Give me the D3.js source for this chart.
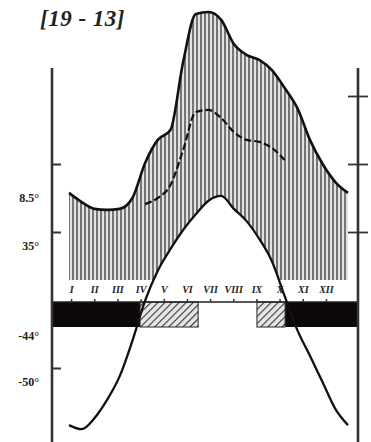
<!DOCTYPE html>
<html>
<head>
<meta charset="utf-8">
<script src="https://cdn.jsdelivr.net/npm/d3@7"></script>
<style>
  body { margin: 0; background: #fff; }
  svg { display: block; }
  .lbl { font-family: "Liberation Serif", "DejaVu Serif", serif; fill: #222; }
</style>
</head>
<body>
<div id="chart"></div>
<script>
// month labels
var months = ["I", "II", "III", "IV", "V", "VI", "VII", "VIII", "IX", "X", "XI", "XII"];
// sample positions, in months (half-month steps)
var steps = [0, 0.5, 1, 1.5, 2, 2.5, 3, 3.5, 4, 4.5, 5, 5.5, 6, 6.5, 7, 7.5, 8, 8.5, 9, 9.5, 10, 10.5, 11];
// temperature, deg C
var temperature = [-18.4, -19.0, -17.4, -14.7, -11.2, -6.0, -0.1, 4.3, 7.5, 10.3, 12.6, 14.6, 15.3,
  13.4, 11.6, 9.0, 5.7, 0.6, -4.4, -8.2, -12.1, -16.0, -18.4];
// precipitation, mm
var precipitation = [31.5, 28.8, 26.8, 26.5, 26.8, 30.0, 40.3, 47.1, 50.0, 70.0, 84.1, 84.7, 82.4,
  75.3, 72.1, 70.6, 67.6, 62.4, 56.5, 47.1, 40.0, 34.7, 31.5];
// dashed curve (second precipitation series), from month 3
var dashedSteps = [3, 3.5, 4, 4.5, 5, 5.5, 6, 6.5, 7, 7.5, 8, 8.5];
var dashedValues = [28.2, 30.0, 33.8, 44.1, 55.3, 55.9, 53.5, 49.4, 47.1, 46.5, 44.7, 41.2];
// frost periods (months)
var frostDefinite = [[-0.7, 2.8], [8.52, 11.45]];
var frostPossible = [[2.8, 5.09], [7.41, 8.52]];
// axis ticks
var tempTicks = [-10, 10, 20];
var precTicks = [20, 40, 60];
// side notes
var notes = [
  { text: "8.5°", t: 15.0 },
  { text: "35°", t: 8.0 },
  { text: "-44°", t: -5.3 },
  { text: "-50°", t: -12.1 }
];
var title = "[19 - 13]";

var width = 371, height = 442;
var left = 52, right = 358, plotTop = 68, bottom = 442, base = 280;

var svg = d3.select("#chart").append("svg")
  .attr("width", width)
  .attr("height", height);

var x = d3.scaleLinear().domain([0, 11]).range([69, 348]);
var xLabel = d3.scaleBand().domain(months).range([60, 338]);
var yT = d3.scaleLinear().domain([0, 10]).range([300, 232]);
var yP = d3.scaleLinear().domain([0, 20]).range([300, 232]);

var defs = svg.append("defs");
var vp = defs.append("pattern")
  .attr("id", "vert")
  .attr("patternUnits", "userSpaceOnUse")
  .attr("width", 4).attr("height", 4);
vp.append("rect").attr("width", 4).attr("height", 4).attr("fill", "#cfcfcf");
vp.append("line").attr("x1", 1).attr("x2", 1).attr("y1", 0).attr("y2", 4)
  .attr("stroke", "#5e5e5e").attr("stroke-width", 1.6);
vp.append("line").attr("x1", 3).attr("x2", 3).attr("y1", 0).attr("y2", 4)
  .attr("stroke", "#fafafa").attr("stroke-width", 0.9);

var dp = defs.append("pattern")
  .attr("id", "diag")
  .attr("patternUnits", "userSpaceOnUse")
  .attr("width", 5).attr("height", 5)
  .attr("patternTransform", "rotate(45)");
dp.append("rect").attr("width", 5).attr("height", 5).attr("fill", "#e6e6e6");
dp.append("line").attr("x1", 0).attr("x2", 0).attr("y1", 0).attr("y2", 5)
  .attr("stroke", "#333").attr("stroke-width", 2.2);

defs.append("clipPath").attr("id", "above")
  .append("rect").attr("x", 0).attr("y", 0).attr("width", width).attr("height", base);

var pts = steps.map(function (s, i) {
  return { m: s, t: temperature[i], p: precipitation[i] };
});

// humid period hatching
var precArea = d3.area()
  .x(function (d) { return x(d.m); })
  .y0(base)
  .y1(function (d) { return yP(d.p); })
  .curve(d3.curveMonotoneX);
svg.append("path")
  .datum(pts)
  .attr("d", precArea)
  .attr("fill", "url(#vert)")
  .attr("clip-path", "url(#above)");

// cut out the area under the temperature curve
var tempArea = d3.area()
  .x(function (d) { return x(d.m); })
  .y0(bottom)
  .y1(function (d) { return yT(d.t); })
  .curve(d3.curveMonotoneX);
svg.append("path")
  .datum(pts)
  .attr("d", tempArea)
  .attr("fill", "#fff")
  .attr("clip-path", "url(#above)");

// frost bar
var barTop = 302, barH = 25;
function xc(v) { return Math.max(left, Math.min(right, x(v))); }
svg.selectAll(".frost")
  .data(frostDefinite)
  .enter().append("rect")
  .attr("x", function (d) { return xc(d[0]); })
  .attr("width", function (d) { return xc(d[1]) - xc(d[0]); })
  .attr("y", barTop).attr("height", barH)
  .attr("fill", "#0c0808");
svg.selectAll(".frost2")
  .data(frostPossible)
  .enter().append("rect")
  .attr("x", function (d) { return xc(d[0]); })
  .attr("width", function (d) { return xc(d[1]) - xc(d[0]); })
  .attr("y", barTop).attr("height", barH)
  .attr("fill", "url(#diag)")
  .attr("stroke", "#222").attr("stroke-width", 1);

// month axis line with ticks
var mAxis = svg.append("g")
  .attr("transform", "translate(0," + barTop + ")")
  .call(d3.axisTop(xLabel).tickSize(3).tickFormat(""));
mAxis.select(".domain").attr("d", "M" + left + ",0H" + right).attr("stroke", "#222").attr("stroke-width", 1.6);
mAxis.selectAll(".tick line").attr("stroke", "#333").attr("stroke-width", 1.5);

svg.selectAll(".mlabel")
  .data(months)
  .enter().append("text")
  .attr("class", "lbl")
  .attr("x", function (d) { return xLabel(d) + xLabel.bandwidth() / 2; })
  .attr("y", 293)
  .attr("text-anchor", "middle")
  .style("font-size", "10px")
  .style("font-style", "italic")
  .style("font-weight", "bold")
  .text(function (d) { return d; });

// dashed curve
var dashLine = d3.line()
  .x(function (d, i) { return x(dashedSteps[i]); })
  .y(function (d) { return yP(d); })
  .curve(d3.curveMonotoneX);
svg.append("path")
  .datum(dashedValues)
  .attr("d", dashLine)
  .attr("fill", "none")
  .attr("stroke", "#111")
  .attr("stroke-width", 2.2)
  .attr("stroke-dasharray", "7,3");

// precipitation curve
var precLine = d3.line()
  .x(function (d) { return x(d.m); })
  .y(function (d) { return yP(d.p); })
  .curve(d3.curveMonotoneX);
svg.append("path")
  .datum(pts)
  .attr("d", precLine)
  .attr("fill", "none")
  .attr("stroke", "#111")
  .attr("stroke-width", 2.6)
  .attr("stroke-linejoin", "round");

// temperature curve
var tempLine = d3.line()
  .x(function (d) { return x(d.m); })
  .y(function (d) { return yT(d.t); })
  .curve(d3.curveMonotoneX);
svg.append("path")
  .datum(pts)
  .attr("d", tempLine)
  .attr("fill", "none")
  .attr("stroke", "#111")
  .attr("stroke-width", 2.3);

// left axis (temperature)
var la = svg.append("g")
  .attr("transform", "translate(" + left + ",0)")
  .call(d3.axisRight(yT).tickValues(tempTicks).tickSize(9).tickFormat(""));
la.select(".domain").attr("d", "M0," + plotTop + "V" + bottom).attr("stroke", "#333").attr("stroke-width", 2.6);
la.selectAll(".tick line").attr("stroke", "#333").attr("stroke-width", 2);

// right axis (precipitation)
var ra = svg.append("g")
  .attr("transform", "translate(" + right + ",0)")
  .call(d3.axisRight(yP).tickValues(precTicks).tickSize(10).tickFormat(""));
ra.select(".domain").attr("d", "M0," + plotTop + "V" + bottom).attr("stroke", "#333").attr("stroke-width", 2.6);
ra.selectAll(".tick line").attr("x1", -10).attr("stroke", "#333").attr("stroke-width", 1.8);

// side notes
svg.selectAll(".note")
  .data(notes)
  .enter().append("text")
  .attr("class", "lbl")
  .attr("x", 39)
  .attr("y", function (d) { return yT(d.t) + 4; })
  .attr("text-anchor", "end")
  .style("font-size", "12px")
  .style("font-weight", "bold")
  .text(function (d) { return d.text; });

svg.append("text")
  .attr("class", "lbl")
  .attr("x", 40).attr("y", 26)
  .style("font-size", "23px")
  .style("font-style", "italic")
  .style("font-weight", "bold")
  .style("letter-spacing", "0.5px")
  .text(title);
</script>
</body>
</html>
